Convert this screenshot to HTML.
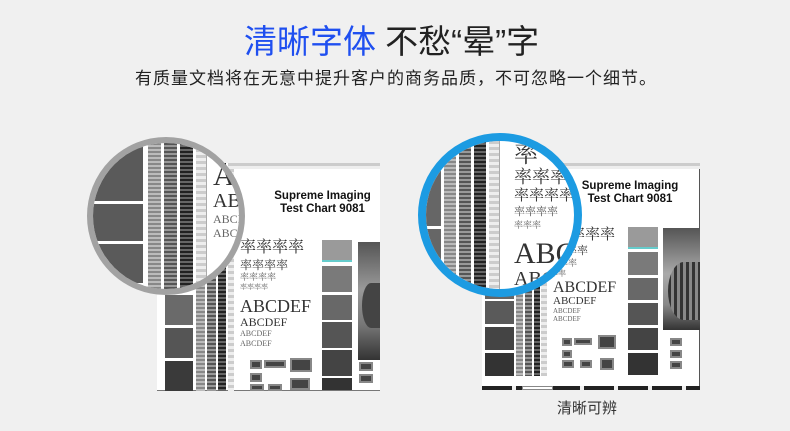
<!DOCTYPE html>
<html><head><meta charset="utf-8">
<style>
*{margin:0;padding:0;box-sizing:border-box}
body{width:790px;height:431px;background:#f0f0f0;position:relative;overflow:hidden;font-family:"Liberation Sans","Noto Sans CJK SC",sans-serif}
.a{position:absolute}
.serif{font-family:"Liberation Serif","Noto Serif CJK SC",serif;color:#333;white-space:nowrap;line-height:1}
.stripe{background:repeating-linear-gradient(180deg,#888 0 2px,#bbb 2px 4px)}
.stripe2{background:repeating-linear-gradient(180deg,#555 0 2px,#999 2px 4px)}
.stripe3{background:repeating-linear-gradient(180deg,#222 0 2px,#666 2px 4px)}
.stripe4{background:repeating-linear-gradient(180deg,#ccc 0 3px,#eee 3px 6px)}
.ttl{font-weight:bold;font-size:11.5px;color:#111;text-align:center;line-height:13px;white-space:nowrap}
.qr{background:#444;border:2px solid #888}
</style></head><body>

<div class="a" style="left:244px;top:22px;font-size:33px;color:#1f4ff0;font-family:'Liberation Sans','Noto Sans CJK SC',sans-serif;white-space:nowrap;line-height:40px">清晰字体 <span style="color:#222">不愁“晕”字</span></div>
<div class="a" style="left:135px;top:67px;font-size:17px;letter-spacing:1px;color:#222;white-space:nowrap;line-height:24px">有质量文档将在无意中提升客户的商务品质，不可忽略一个细节。</div>

<!-- LEFT CHART -->
<div class="a" style="left:157px;top:163px;width:223px;height:228px;background:#fff"></div>
<div class="a" style="left:157px;top:390px;width:223px;height:1px;background:#777"></div>
<div class="a stripe4" style="left:230px;top:163px;width:150px;height:6px"></div>
<div class="a" style="left:165px;top:295px;width:28px;height:30px;background:#6a6a6a"></div>
<div class="a" style="left:165px;top:328px;width:28px;height:30px;background:#555"></div>
<div class="a" style="left:165px;top:361px;width:28px;height:30px;background:#3a3a3a"></div>
<div class="a stripe" style="left:196px;top:163px;width:9px;height:228px"></div>
<div class="a stripe2" style="left:207px;top:163px;width:9px;height:228px"></div>
<div class="a stripe3" style="left:218px;top:163px;width:8px;height:228px"></div>
<div class="a stripe4" style="left:228px;top:163px;width:6px;height:228px"></div>
<div class="a ttl" style="left:270px;top:190px;width:105px">Supreme Imaging<br>Test Chart 9081</div>
<div class="a serif" style="left:240px;top:240px;font-size:16px">率率率率</div>
<div class="a serif" style="left:240px;top:259px;font-size:12px">率率率率</div>
<div class="a serif" style="left:240px;top:273px;font-size:9px;color:#666">率率率率</div>
<div class="a serif" style="left:240px;top:284px;font-size:7px;color:#666">率率率率</div>
<div class="a serif" style="left:240px;top:297px;font-size:18px">ABCDEF</div>
<div class="a serif" style="left:240px;top:316px;font-size:12px">ABCDEF</div>
<div class="a serif" style="left:240px;top:330px;font-size:8px;color:#666">ABCDEF</div>
<div class="a serif" style="left:240px;top:340px;font-size:8px;color:#666">ABCDEF</div>
<div class="a qr" style="left:250px;top:360px;width:12px;height:9px"></div>
<div class="a qr" style="left:264px;top:360px;width:22px;height:8px"></div>
<div class="a qr" style="left:290px;top:358px;width:22px;height:14px"></div>
<div class="a qr" style="left:250px;top:373px;width:12px;height:9px"></div>
<div class="a qr" style="left:250px;top:384px;width:14px;height:7px"></div>
<div class="a qr" style="left:268px;top:384px;width:14px;height:7px"></div>
<div class="a qr" style="left:290px;top:378px;width:20px;height:12px"></div>
<div class="a" style="left:322px;top:240px;width:30px;height:22px;background:#9a9a9a;border-bottom:2px solid #6cc"></div>
<div class="a" style="left:322px;top:266px;width:30px;height:26px;background:#7a7a7a"></div>
<div class="a" style="left:322px;top:295px;width:30px;height:25px;background:#686868"></div>
<div class="a" style="left:322px;top:322px;width:30px;height:26px;background:#555"></div>
<div class="a" style="left:322px;top:350px;width:30px;height:26px;background:#444"></div>
<div class="a" style="left:322px;top:378px;width:30px;height:12px;background:#333"></div>
<div class="a" style="left:358px;top:242px;width:22px;height:118px;background:linear-gradient(180deg,#555,#999 40%,#777 70%,#333)"></div>
<div class="a" style="left:362px;top:283px;width:18px;height:45px;border-radius:50% 0 0 50%;background:#444"></div>
<div class="a qr" style="left:359px;top:362px;width:14px;height:9px"></div>
<div class="a qr" style="left:359px;top:374px;width:14px;height:9px"></div>

<!-- left circle -->
<div class="a" style="left:87px;top:137px;width:158px;height:158px;border-radius:50%;border:6px solid #a2a2a2;overflow:hidden;background:#fff">
  <div class="a" style="left:0;top:0;width:50px;height:160px;background:#5a5a5a"></div>
  <div class="a" style="left:0;top:58px;width:50px;height:3px;background:#fff"></div>
  <div class="a" style="left:0;top:98px;width:50px;height:3px;background:#fff"></div>
  <div class="a" style="left:0;top:140px;width:50px;height:3px;background:#fff"></div>
  <div class="a" style="left:50px;top:0;width:4px;height:160px;background:#fff"></div>
  <div class="a stripe" style="left:55px;top:0;width:13px;height:160px"></div>
  <div class="a stripe2" style="left:71px;top:0;width:13px;height:160px"></div>
  <div class="a stripe3" style="left:87px;top:0;width:13px;height:160px"></div>
  <div class="a stripe4" style="left:103px;top:0;width:10px;height:160px"></div>
  <div class="a" style="left:113px;top:0;width:1px;height:160px;background:#aaa"></div>
  <div class="a serif" style="left:120px;top:18px;font-size:30px">AB</div>
  <div class="a serif" style="left:120px;top:48px;font-size:20px">ABC</div>
  <div class="a serif" style="left:120px;top:70px;font-size:12px;color:#666">ABCDEF</div>
  <div class="a serif" style="left:120px;top:84px;font-size:12px;color:#666">ABCDEF</div>
</div>

<!-- RIGHT CHART -->
<div class="a" style="left:482px;top:163px;width:218px;height:227px;background:#fff;border-right:1px solid #555"></div>
<div class="a stripe4" style="left:545px;top:163px;width:155px;height:6px"></div>
<div class="a" style="left:485px;top:240px;width:29px;height:28px;background:#6a6a6a"></div>
<div class="a" style="left:485px;top:271px;width:29px;height:28px;background:#666"></div>
<div class="a" style="left:485px;top:301px;width:29px;height:23px;background:#5a5a5a"></div>
<div class="a" style="left:485px;top:327px;width:29px;height:23px;background:#444"></div>
<div class="a" style="left:485px;top:353px;width:29px;height:23px;background:#333"></div>
<div class="a stripe" style="left:516px;top:163px;width:7px;height:213px"></div>
<div class="a stripe2" style="left:525px;top:163px;width:7px;height:213px"></div>
<div class="a stripe3" style="left:534px;top:163px;width:6px;height:213px"></div>
<div class="a stripe4" style="left:541px;top:163px;width:6px;height:213px"></div>
<div class="a ttl" style="left:580px;top:180px;width:100px">Supreme Imaging<br>Test Chart 9081</div>
<div class="a serif" style="left:570px;top:228px;font-size:15px">率率率</div>
<div class="a serif" style="left:555px;top:246px;font-size:11px">率率率</div>
<div class="a serif" style="left:550px;top:259px;font-size:9px;color:#666">率率率</div>
<div class="a serif" style="left:550px;top:270px;font-size:8px;color:#666">率率</div>
<div class="a serif" style="left:553px;top:280px;font-size:16px">ABCDEF</div>
<div class="a serif" style="left:553px;top:296px;font-size:11px">ABCDEF</div>
<div class="a serif" style="left:553px;top:308px;font-size:7px;color:#666">ABCDEF</div>
<div class="a serif" style="left:553px;top:316px;font-size:7px;color:#666">ABCDEF</div>
<div class="a qr" style="left:562px;top:338px;width:10px;height:8px"></div>
<div class="a qr" style="left:574px;top:338px;width:18px;height:7px"></div>
<div class="a qr" style="left:598px;top:335px;width:18px;height:14px"></div>
<div class="a qr" style="left:562px;top:350px;width:10px;height:8px"></div>
<div class="a qr" style="left:562px;top:360px;width:12px;height:8px"></div>
<div class="a qr" style="left:580px;top:360px;width:12px;height:8px"></div>
<div class="a qr" style="left:600px;top:358px;width:14px;height:12px"></div>
<div class="a" style="left:628px;top:227px;width:30px;height:22px;background:#9a9a9a;border-bottom:2px solid #6cc"></div>
<div class="a" style="left:628px;top:252px;width:30px;height:23px;background:#7a7a7a"></div>
<div class="a" style="left:628px;top:278px;width:30px;height:22px;background:#686868"></div>
<div class="a" style="left:628px;top:303px;width:30px;height:22px;background:#555"></div>
<div class="a" style="left:628px;top:328px;width:30px;height:22px;background:#444"></div>
<div class="a" style="left:628px;top:353px;width:30px;height:22px;background:#333"></div>
<div class="a" style="left:663px;top:228px;width:37px;height:102px;background:linear-gradient(180deg,#555,#aaa 45%,#888 75%,#333)"></div>
<div class="a" style="left:668px;top:262px;width:32px;height:58px;border-radius:50% 0 0 50%;background:repeating-linear-gradient(90deg,#333 0 3px,#888 3px 6px)"></div>
<div class="a qr" style="left:670px;top:338px;width:12px;height:8px"></div>
<div class="a qr" style="left:670px;top:350px;width:12px;height:8px"></div>
<div class="a qr" style="left:670px;top:361px;width:12px;height:8px"></div>
<div class="a" style="left:482px;top:386px;width:218px;height:4px;background:repeating-linear-gradient(90deg,#222 0 30px,#f0f0f0 30px 34px)"></div>
<div class="a" style="left:522px;top:386px;width:31px;height:4px;background:#fff;border:1px solid #888"></div>

<!-- right circle -->
<div class="a" style="left:418px;top:133px;width:164px;height:164px;border-radius:50%;border:8px solid #1c9be2;overflow:hidden;background:#fff">
  <div class="a" style="left:0;top:0;width:15px;height:160px;background:#666"></div>
  <div class="a" style="left:0;top:85px;width:15px;height:3px;background:#fff"></div>
  <div class="a stripe" style="left:18px;top:0;width:12px;height:160px"></div>
  <div class="a stripe2" style="left:33px;top:0;width:12px;height:160px"></div>
  <div class="a stripe3" style="left:48px;top:0;width:12px;height:160px"></div>
  <div class="a stripe4" style="left:63px;top:0;width:10px;height:160px"></div>
  <div class="a" style="left:73px;top:0;width:1px;height:160px;background:#aaa"></div>
  <div class="a serif" style="left:88px;top:2px;font-size:24px">率</div>
  <div class="a serif" style="left:88px;top:27px;font-size:18px">率率率</div>
  <div class="a serif" style="left:88px;top:48px;font-size:15px">率率率率</div>
  <div class="a serif" style="left:88px;top:66px;font-size:11px;color:#555">率率率率</div>
  <div class="a serif" style="left:88px;top:80px;font-size:9px;color:#666">率率率</div>
  <div class="a serif" style="left:88px;top:98px;font-size:30px">ABCD</div>
  <div class="a serif" style="left:88px;top:128px;font-size:20px">ABCD</div>
</div>

<div class="a" style="left:557px;top:398px;font-size:15px;color:#333;white-space:nowrap;line-height:22px">清晰可辨</div>
</body></html>
